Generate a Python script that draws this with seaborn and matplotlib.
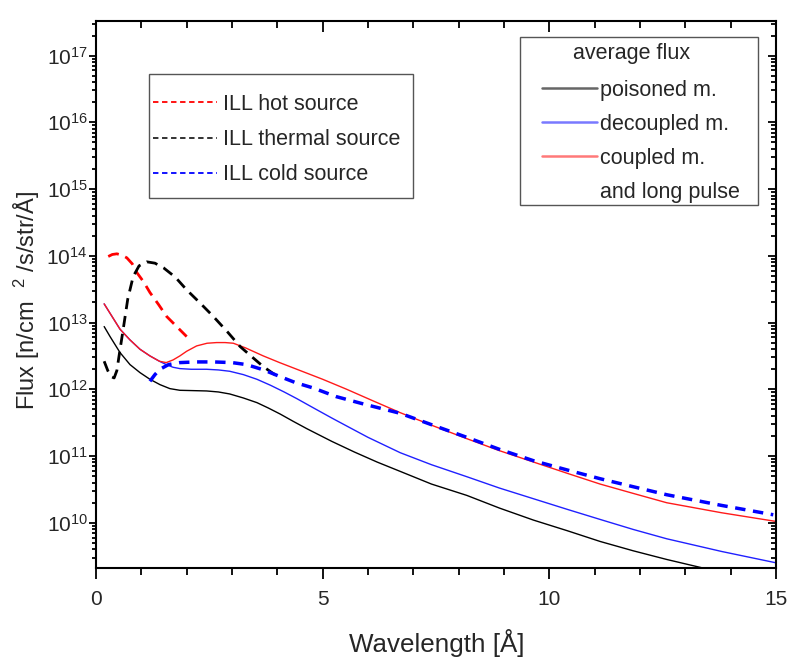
import numpy as np
import pandas as pd
import matplotlib
matplotlib.use("Agg")
import matplotlib.pyplot as plt
import seaborn as sns
from matplotlib.lines import Line2D
from matplotlib.patches import Rectangle
from matplotlib.ticker import LogLocator, MultipleLocator, NullFormatter, FixedLocator, LogFormatterSciNotation

# ---- data (wavelength in Å, log10 of flux) ----
poisoned_x = [0.18, 0.31, 0.53, 0.75, 0.97, 1.19, 1.41, 1.63, 1.85, 2.15, 2.44, 2.7, 2.95, 3.25, 3.55, 3.8, 4.06, 4.35, 4.65, 5.2, 5.7, 6.2, 6.71, 7.4, 8.18, 8.9, 9.65, 10.4, 11.12, 11.85, 12.59, 13.4]
poisoned_log = [12.94, 12.79, 12.55, 12.37, 12.25, 12.15, 12.07, 12.01, 11.985, 11.98, 11.975, 11.96, 11.93, 11.87, 11.80, 11.72, 11.63, 11.52, 11.41, 11.22, 11.06, 10.91, 10.77, 10.58, 10.41, 10.22, 10.04, 9.88, 9.72, 9.58, 9.45, 9.32]

decoupled_x = [0.18, 0.53, 0.75, 0.97, 1.19, 1.4, 1.55, 1.7, 1.85, 2.1, 2.44, 2.7, 2.95, 3.25, 3.55, 3.85, 4.15, 4.43, 4.8, 5.2, 5.53, 6.0, 6.71, 7.4, 8.18, 8.9, 9.65, 10.4, 11.12, 11.85, 12.59, 13.8, 15.0]
decoupled_log = [13.28, 12.90, 12.74, 12.60, 12.50, 12.42, 12.37, 12.33, 12.31, 12.30, 12.30, 12.29, 12.27, 12.22, 12.15, 12.06, 11.96, 11.86, 11.72, 11.57, 11.45, 11.28, 11.05, 10.87, 10.69, 10.52, 10.36, 10.20, 10.05, 9.90, 9.76, 9.57, 9.40]

coupled_x = [0.18, 0.53, 0.75, 0.97, 1.19, 1.4, 1.55, 1.7, 1.85, 2.0, 2.22, 2.45, 2.66, 2.85, 3.03, 3.3, 3.69, 4.05, 4.43, 5.0, 5.53, 6.1, 6.71, 7.37, 8.18, 8.9, 9.65, 10.4, 11.12, 11.85, 12.59, 13.8, 15.0]
coupled_log = [13.28, 12.90, 12.74, 12.60, 12.50, 12.42, 12.40, 12.44, 12.50, 12.57, 12.65, 12.69, 12.70, 12.70, 12.69, 12.62, 12.50, 12.40, 12.30, 12.15, 12.00, 11.83, 11.65, 11.47, 11.26, 11.08, 10.91, 10.74, 10.58, 10.44, 10.30, 10.15, 10.02]

hot_x = [0.27, 0.36, 0.46, 0.57, 0.68, 0.80, 0.90, 1.05, 1.19, 1.38, 1.56, 1.78, 2.0]
hot_log = [13.99, 14.02, 14.03, 14.01, 13.97, 13.88, 13.75, 13.61, 13.45, 13.27, 13.09, 12.94, 12.79]

thermal_x = [0.18, 0.26, 0.33, 0.40, 0.46, 0.52, 0.60, 0.70, 0.82, 0.95, 1.12, 1.3, 1.49, 1.75, 2.0, 2.3, 2.59, 2.9, 3.18, 3.45, 3.69, 3.9, 4.06]
thermal_log = [12.42, 12.28, 12.19, 12.17, 12.28, 12.55, 12.90, 13.35, 13.69, 13.85, 13.91, 13.89, 13.82, 13.68, 13.49, 13.29, 13.09, 12.86, 12.64, 12.48, 12.34, 12.24, 12.17]

cold_x = [1.19, 1.3, 1.41, 1.6, 1.85, 2.2, 2.59, 3.0, 3.32, 3.7, 4.06, 4.4, 4.79, 5.3, 5.9, 6.71, 7.4, 8.18, 8.9, 9.65, 10.4, 11.12, 11.85, 12.59, 13.8, 14.94]
cold_log = [12.12, 12.22, 12.30, 12.37, 12.40, 12.41, 12.41, 12.40, 12.37, 12.29, 12.19, 12.10, 12.02, 11.89, 11.78, 11.64, 11.47, 11.28, 11.10, 10.93, 10.79, 10.66, 10.54, 10.42, 10.26, 10.12]

ill_labels = ["ILL hot source", "ILL thermal source", "ILL cold source"]
avg_labels = ["poisoned m.", "decoupled m.", "coupled m.", "and long pulse"]
avg_title = "average flux"
x_ticks = [0, 5, 10, 15]
y_ticks = [1e10, 1e11, 1e12, 1e13, 1e14, 1e15, 1e16, 1e17]

sns.set_theme(style="ticks")
FAM = "Liberation Sans"
plt.rcParams['font.family'] = [FAM, 'DejaVu Sans']
plt.rcParams['mathtext.fontset'] = 'custom'
plt.rcParams['mathtext.rm'] = FAM
plt.rcParams['mathtext.it'] = FAM
plt.rcParams['mathtext.bf'] = FAM

W, H = 787, 659
fig = plt.figure(figsize=(W / 100, H / 100), dpi=100)
ax = fig.add_axes([96 / W, 1 - 568 / H, 680 / W, 547 / H])

def draw(xs, logs, color, lw, dashes=None):
    df = pd.DataFrame({"x": xs, "y": np.power(10.0, logs)})
    sns.lineplot(data=df, x="x", y="y", ax=ax, color=color, linewidth=lw,
                 sort=False, estimator=None, legend=False)
    line = ax.get_lines()[-1]
    if dashes is not None:
        line.set_dashes(dashes)
    return line

draw(poisoned_x, poisoned_log, "#000000", 1.0)
draw(decoupled_x, decoupled_log, "#2020ff", 1.0)
draw(coupled_x, coupled_log, "#ff1a1a", 1.0)
draw(hot_x, hot_log, "#ff0000", 2.0, dashes=(4, 2.5))
draw(thermal_x, thermal_log, "#000000", 2.0, dashes=(4, 2.5))
draw(cold_x, cold_log, "#0000ff", 2.5, dashes=(3, 2.2))

ax.set_yscale("log")
ax.set_xlim(0, 15)
ax.set_ylim(2.1e9, 3.3e17)

ax.xaxis.set_major_locator(FixedLocator(x_ticks))
ax.xaxis.set_minor_locator(MultipleLocator(1))
ax.yaxis.set_major_locator(FixedLocator(y_ticks))
ax.yaxis.set_major_formatter(LogFormatterSciNotation())
ax.yaxis.set_minor_locator(LogLocator(base=10, subs=np.arange(2, 10), numticks=20))
ax.yaxis.set_minor_formatter(NullFormatter())

ax.tick_params(axis="both", which="both", direction="out", top=False, right=False,
               labelsize=15, color="black", width=1.3)
ax.tick_params(axis="x", which="major", length=8, pad=8)
ax.tick_params(axis="x", which="minor", length=5)
ax.tick_params(axis="y", which="major", length=5, pad=1)
ax.tick_params(axis="y", which="minor", length=3)
for sp in ax.spines.values():
    sp.set_linewidth(1.5)
    sp.set_color("black")

# mirrored axes: right and top ticks pointing inward
axr = ax.twinx()
axr.set_yscale("log")
axr.set_ylim(ax.get_ylim())
axr.yaxis.set_major_locator(FixedLocator(y_ticks))
axr.yaxis.set_minor_locator(LogLocator(base=10, subs=np.arange(2, 10), numticks=20))
axr.yaxis.set_major_formatter(NullFormatter())
axr.yaxis.set_minor_formatter(NullFormatter())
axr.tick_params(axis="y", which="both", direction="in", labelright=False, width=1.3, color="black")
axr.tick_params(axis="y", which="major", length=6)
axr.tick_params(axis="y", which="minor", length=3.5)
axt = ax.twiny()
axt.set_xlim(ax.get_xlim())
axt.xaxis.set_major_locator(FixedLocator(x_ticks))
axt.xaxis.set_minor_locator(MultipleLocator(1))
axt.xaxis.set_major_formatter(NullFormatter())
axt.tick_params(axis="x", which="both", direction="in", labeltop=False, width=1.3, color="black")
axt.tick_params(axis="x", which="major", length=8)
axt.tick_params(axis="x", which="minor", length=5)
for a in (axr, axt):
    for sp in a.spines.values():
        sp.set_visible(False)

ax.set_xlabel("Wavelength [Å]", fontsize=18.7)
ax.xaxis.set_label_coords(0.5007, -0.112)
ax.set_ylabel("Flux [n/cm  $^{2}$ /s/str/Å]", fontsize=17)
ax.yaxis.set_label_coords(-0.08, 0.49)

def fig_rect(x0, y0, x1, y1):
    r = Rectangle((x0 / W, 1 - y1 / H), (x1 - x0) / W, (y1 - y0) / H,
                  transform=fig.transFigure, facecolor="white",
                  edgecolor="#555555", linewidth=1.0, zorder=5)
    fig.add_artist(r)

fig_rect(149, 74, 413, 198)
fig_rect(520, 37, 758, 205)

LFS = 15.5
h_hot = Line2D([], [], color="#ff0000", lw=1.3, dashes=(3, 2))
h_th = Line2D([], [], color="#222222", lw=1.3, dashes=(3, 2))
h_cold = Line2D([], [], color="#0000ff", lw=1.3, dashes=(3, 2))
leg1 = fig.legend(handles=[h_hot, h_th, h_cold], labels=ill_labels,
                  loc="upper left", bbox_to_anchor=(153 / W, 1 - 94 / H),
                  bbox_transform=fig.transFigure,
                  fontsize=LFS, frameon=False, borderpad=0, borderaxespad=0,
                  handlelength=2.98, handletextpad=0.28, labelspacing=0.66)
leg1.set_zorder(6)

h_p = Line2D([], [], color="#000000", lw=1.8, alpha=0.6)
h_d = Line2D([], [], color="#2020ff", lw=1.8, alpha=0.6)
h_c = Line2D([], [], color="#ff2020", lw=1.8, alpha=0.6)
h_blank = Line2D([], [], color="none", lw=0)
leg2 = fig.legend(handles=[h_p, h_d, h_c, h_blank], labels=avg_labels,
                  loc="upper left", bbox_to_anchor=(542 / W, 1 - 80 / H),
                  bbox_transform=fig.transFigure,
                  fontsize=LFS, frameon=False, borderpad=0, borderaxespad=0,
                  handlelength=2.56, handletextpad=0.14, labelspacing=0.6)
leg2.set_zorder(6)
fig.text(632 / W, 1 - 53 / H, avg_title, fontsize=LFS, ha="center", va="center", zorder=7)

fig.savefig("out.png", dpi=100)
